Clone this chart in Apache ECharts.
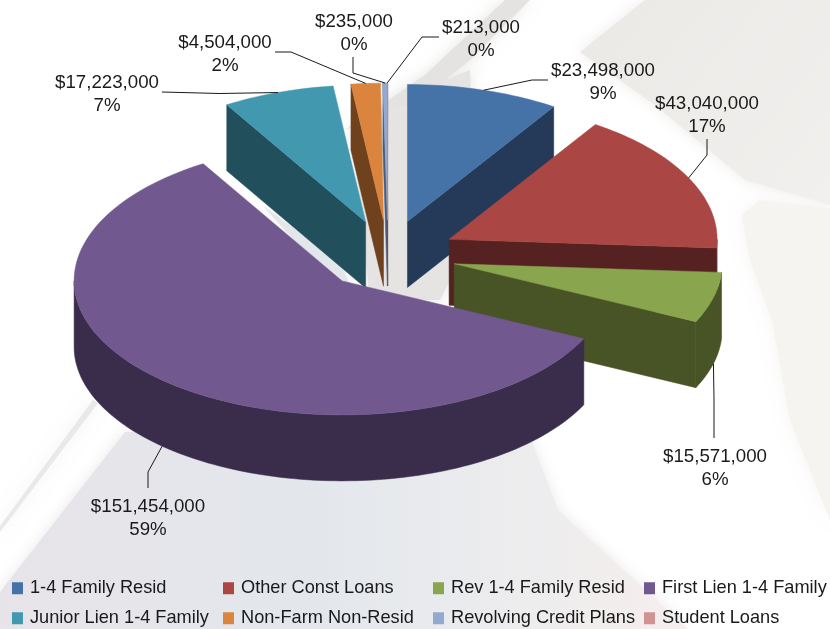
<!DOCTYPE html>
<html>
<head>
<meta charset="utf-8">
<style>html,body{margin:0;padding:0;background:#fff}#c{width:830px;height:629px}</style>
<script src="https://cdn.jsdelivr.net/npm/echarts@6/dist/echarts.min.js"></script>
</head>
<body>
<div id="c"></div>
<script>
// ---- data ----
const categories = ['1-4 Family Resid','Other Const Loans','Rev 1-4 Family Resid','First Lien 1-4 Family',
                    'Junior Lien 1-4 Family','Non-Farm Non-Resid','Revolving Credit Plans','Student Loans'];
const values = [23498000,43040000,15571000,151454000,17223000,4504000,235000,213000];

// ---- style / layout, kept apart from the data ----
const topColors  = ['#4572A7','#AA4643','#89A54E','#71588F','#4198AF','#DB843D','#93A9CF','#D19392'];
const wallColors = ['#243A58','#562221','#485326','#3A2C4B','#214F5B','#6F411D','#4A5A78','#6B4A4A'];
const paintOrder = [7,4,5,6,0,1,2,3];           // back to front
const minSweepDeg = [0,0,0,0,0,0,1,0];          // slivers the original draws wider than their share
const PIE = {cx:388, cy:255, rx:268, ryBack:137, ryFront:134, depth:66, explode:0.255};
const FONT = '"Liberation Sans", Arial, sans-serif';
// label centre and the elbow of its leader line: [labelX, labelY, startX, startY, elbowX, elbowY]
const labelLayout = [
  [603,  82, 548, 80, 532, 80],
  [707, 115, 707,139, 707,155],
  [715, 468, 714,438, 714,400],
  [148, 518, 148,488, 148,472],
  [107,  94, 162, 92, 220, 93.5],
  [225,  54, 275, 52, 291, 52],
  [354,  33, 353, 57, 353, 73],
  [481,  39, 439, 37, 422, 37]
];

const total = values.reduce((a,b)=>a+b,0);
const DEG = Math.PI/180;
function money(v){ return '$' + v.toLocaleString('en-US'); }

function renderSlice(i){
  return function(params, api){
    const before = values.slice(0,i).reduce((a,b)=>a+b,0);
    const value = api.value(0);
    const a0 = before/total*360, a1 = (before+value)/total*360;
    const mid = (a0+a1)/2;
    const sweep = Math.max(a1-a0, minSweepDeg[i]);
    const s = mid-sweep/2, e = mid+sweep/2;
    const ax = PIE.cx + PIE.explode*PIE.rx*Math.sin(mid*DEG);
    const ay = PIE.cy - PIE.explode*PIE.ryBack*Math.cos(mid*DEG);
    const rim = d => { const c=Math.cos(d*DEG); return [ax+PIE.rx*Math.sin(d*DEG), ay-(c<0?PIE.ryFront:PIE.ryBack)*c]; };
    const down = p => [p[0], p[1]+PIE.depth];
    const arc = (from,to) => { const n=Math.max(2,Math.ceil((to-from)/1.5)), out=[];
      for(let k=0;k<=n;k++) out.push(rim(from+(to-from)*k/n)); return out; };
    const wall = wallColors[i];
    const top = api.visual('color');
    const kids = [];
    const poly = (pts,fill) => kids.push({type:'polygon',shape:{points:pts},
      style:{fill:fill,stroke:fill,lineWidth:0.5}});
    const apex=[ax,ay];
    // radial faces that turn towards the viewer
    [[s,-1],[e,1]].forEach(([d,sign])=>{
      if(sign*Math.sin(d*DEG)>0){ const p=rim(d); poly([apex,p,down(p),down(apex)],wall); }
    });
    // outer wall: only the part of the rim in the front half
    const wf=Math.max(s,90), wt=Math.min(e,270);
    if(wt>wf){ const r=arc(wf,wt); poly(r.concat(r.slice().reverse().map(down)),wall); }
    // top face
    poly([apex].concat(arc(s,e)),top);
    // leader line, ending on the rim at the slice's mid-angle
    const L=labelLayout[i];
    let end=rim(mid); if(Math.cos(mid*DEG)<0) end=down(end);
    kids.push({type:'polyline',shape:{points:[[L[2],L[3]],[L[4],L[5]],end]},
      style:{fill:null,stroke:'#1a1a1a',lineWidth:1}});
    // label
    const pct=Math.round(value/total*100);
    kids.push({type:'text',style:{x:L[0],y:L[1],text:money(value)+'\n'+pct+'%',
      fill:'#1a1a1a',fontSize:18.7,fontFamily:FONT,lineHeight:23,align:'center',verticalAlign:'middle'}});
    return {type:'group',children:kids};
  };
}

const series = categories.map((name,i)=>({
  type:'custom', name:name, coordinateSystem:'none', silent:true,
  z: 2+paintOrder.indexOf(i),
  itemStyle:{color:topColors[i]},
  data:[[values[i]]],
  renderItem:renderSlice(i)
}));

const legendCols = [12,223,433,644];
const legends = legendCols.map((x,c)=>({
  left:x, top:578, orient:'vertical', icon:'rect', itemWidth:11, itemHeight:12, itemGap:9.5,
  selectedMode:false, padding:0,
  textStyle:{fontSize:18.2,fontFamily:FONT,color:'#1a1a1a',padding:[0,0,0,2],lineHeight:20.5},
  data:[categories[c],categories[c+4]]
}));

// faint decorative backdrop of the original slide
const soft = 14;
const backdrop = [
  {pts:[[580,52],[645,0],[830,0],[830,205],[745,180],[655,105]],
   fill:{type:'linear',x:0,y:0,x2:1,y2:1,colorStops:[{offset:0,color:'#EBE9E6'},{offset:1,color:'#F2F0EE'}]},blur:'#EEECE9'},
  {pts:[[742,215],[760,200],[830,208],[830,520],[790,420],[772,320],[750,260]],fill:'#F6F4F1',blur:'#F6F4F1'},
  {pts:[[405,95],[470,70],[475,230],[440,300],[370,300],[352,130]],fill:'#E6E4E3',blur:'#E9E7E6'},
  {pts:[[345,130],[425,75],[505,0],[530,0],[470,60],[420,100]],fill:'#E4E3E1',blur:'#E8E7E5'},
  {pts:[[262,205],[340,262],[350,285],[330,280]],fill:'#E3E6EB',blur:'#E8EAEE'},
  {pts:[[125,432],[528,432],[558,510],[688,629],[0,629],[0,592]],
   fill:{type:'linear',x:0,y:0,x2:1,y2:0,colorStops:[{offset:0,color:'#E7E4E9'},{offset:.45,color:'#E3E7EC'},{offset:.8,color:'#EEEDEE'},{offset:1,color:'#F6EEED'}]},blur:'#E9E9EC'},
  {pts:[[93,400],[98,403],[0,532],[0,526]],fill:'#E9E9E9',blur:'#EFEFEF'}
];

const chart = echarts.init(document.getElementById('c'),null,{renderer:'canvas'});
chart.setOption({
  animation:false,
  backgroundColor:'#ffffff',
  color:topColors,
  legend:legends,
  graphic:{elements:backdrop.map(b=>({type:'polygon',silent:true,shape:{points:b.pts},
    style:{fill:b.fill,shadowBlur:soft,shadowColor:b.blur}}))},
  series:series
});
</script>
</body>
</html>
